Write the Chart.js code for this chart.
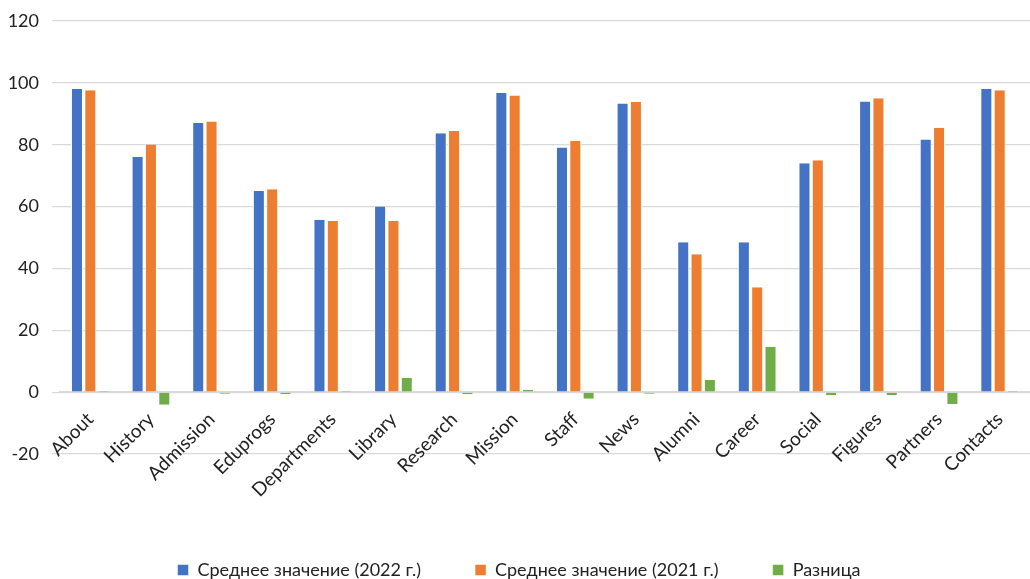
<!DOCTYPE html>
<html>
<head>
<meta charset="utf-8">
<script src="https://cdn.jsdelivr.net/npm/chart.js@4/dist/chart.umd.min.js"></script>
<style>
  html, body { margin: 0; padding: 0; background: #fff; }
  #wrap { width: 1030px; height: 579px; }
</style>
</head>
<body>
<div id="wrap"><canvas id="chart" width="1030" height="579"></canvas></div>
<script>
// Categories and series
const categories = ['About', 'History', 'Admission', 'Eduprogs', 'Departments', 'Library', 'Research', 'Mission',
  'Staff', 'News', 'Alumni', 'Career', 'Social', 'Figures', 'Partners', 'Contacts'];
const avg2022 = [98.0, 76.0, 87.0, 65.0, 55.7, 60.0, 83.7, 96.7, 79.1, 93.3, 48.5, 48.5, 74.0, 94.0, 81.7, 98.0];
const avg2021 = [97.6, 80.1, 87.5, 65.6, 55.3, 55.4, 84.4, 95.9, 81.2, 93.8, 44.6, 33.9, 75.0, 95.0, 85.5, 97.6];
const diff    = [0.4, -4.1, -0.5, -0.6, 0.4, 4.6, -0.7, 0.8, -2.1, -0.5, 3.9, 14.6, -1.0, -1.0, -3.8, 0.4];
const seriesNames = ['Среднее значение (2022 г.)', 'Среднее значение (2021 г.)', 'Разница'];
const yTicks = { min: -20, max: 120, step: 20 };

const FONT = 'Lato, "Noto Sans", sans-serif';
const LEGEND_Y = 570; // centre line of the legend row

function barSet(label, data, color) {
    return {
        label: label,
        data: data,
        backgroundColor: color,
        borderColor: '#ffffff',
        borderWidth: { top: 0, left: 1, right: 1, bottom: 0 },
        categoryPercentage: 0.66,
        barPercentage: 0.9
    };
}

// push the legend row down to where the reference has it
const legendNudge = {
    id: 'legendNudge',
    afterLayout(chart) {
        const lg = chart.legend;
        if (!lg) return;
        const pad = lg.options.labels.padding;
        const itemH = lg.options.labels.font.size;
        const shift = LEGEND_Y - (lg.top + pad + itemH / 2);
        lg.top += shift;
        lg.bottom += shift;
    }
};

new Chart(document.getElementById('chart').getContext('2d'), {
    type: 'bar',
    data: {
        labels: categories,
        datasets: [
            barSet(seriesNames[0], avg2022, '#4472C4'),
            barSet(seriesNames[1], avg2021, '#ED7D31'),
            barSet(seriesNames[2], diff, '#70AD47')
        ]
    },
    plugins: [legendNudge],
    options: {
        responsive: false,
        animation: false,
        layout: { padding: { left: 8, right: 0, top: 21, bottom: 43 } },
        plugins: {
            tooltip: { enabled: false },
            legend: {
                position: 'bottom',
                labels: {
                    font: { family: FONT, size: 18 },
                    color: '#222',
                    boxWidth: 11,
                    boxHeight: 11,
                    padding: 54
                }
            }
        },
        scales: {
            x: {
                position: { y: 0 },
                grid: { display: false },
                border: { display: true, color: '#d9d9d9', width: 1.5 },
                ticks: {
                    font: { family: FONT, size: 19 },
                    color: '#222',
                    maxRotation: 45,
                    minRotation: 45,
                    autoSkip: false,
                    padding: 8
                },
                // labels sit inside the plot, so no side padding for them
                afterFit(scale) {
                    scale.paddingLeft = 0;
                    scale.paddingRight = 0;
                }
            },
            y: {
                min: yTicks.min,
                max: yTicks.max,
                border: { display: false },
                grid: { color: '#d9d9d9', lineWidth: 1.2 },
                ticks: {
                    stepSize: yTicks.step,
                    font: { family: FONT, size: 18 },
                    color: '#222',
                    padding: 13
                },
                afterFit(scale) {
                    scale.width = 52;
                    scale.paddingTop = 0;
                    scale.paddingBottom = 0;
                }
            }
        }
    }
});
</script>
</body>
</html>
